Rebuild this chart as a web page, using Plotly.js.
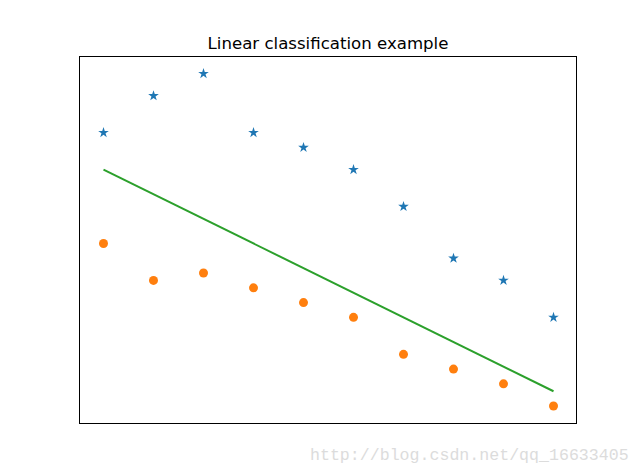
<!DOCTYPE html>
<html>
<head>
<meta charset="utf-8">
<script src="https://cdn.plot.ly/plotly-3.0.1.min.js"></script>
<style>html,body{margin:0;padding:0;background:#fff;}#chart{width:640px;height:476px;}</style>
</head>
<body>
<div id="chart"></div>
<script>
const xValues = [1, 2, 3, 4, 5, 6, 7, 8, 9, 10];
const classA = [37, 42, 45, 37, 35, 32, 27, 20, 17, 12];
const classB = [22, 17, 18, 16, 14, 12, 7, 5, 3, 0];
const lineX = [1, 10];
const lineY = [32, 2];
const titleText = "Linear classification example";
const watermarkText = "http://blog.csdn.net/qq_16633405";

const traces = [
  {x: xValues, y: classA, mode: 'markers', type: 'scatter',
   marker: {symbol: 'star', size: 8, color: '#1f77b4'}},
  {x: xValues, y: classB, mode: 'markers', type: 'scatter',
   marker: {symbol: 'circle', size: 9, color: '#ff7f0e'}},
  {x: lineX, y: lineY, mode: 'lines', type: 'scatter',
   line: {color: '#2ca02c', width: 2}}
];

const layout = {
  width: 640, height: 476,
  margin: {l: 80, r: 64, t: 57, b: 53},
  paper_bgcolor: '#fff', plot_bgcolor: '#fff',
  showlegend: false,
  font: {family: 'DejaVu Sans', color: '#000'},
  title: {text: titleText, font: {family: 'DejaVu Sans', size: 16.6, color: '#000'},
          x: 0.5, xref: 'paper', xanchor: 'center', y: 1 - 43/476, yanchor: 'middle', yref: 'container'},
  xaxis: {range: [0.53, 10.45], showticklabels: false, ticks: '', showgrid: false, zeroline: false,
          showline: true, mirror: true, linecolor: '#000', linewidth: 1},
  yaxis: {range: [-2.3, 47.25], showticklabels: false, ticks: '', showgrid: false, zeroline: false,
          showline: true, mirror: true, linecolor: '#000', linewidth: 1},
  annotations: [{text: watermarkText, xref: 'paper', yref: 'paper', x: 1.11, y: -0.09,
                 xanchor: 'right', yanchor: 'middle', showarrow: false,
                 font: {family: 'Liberation Mono', size: 16.6, color: '#dcdcdc'}}]
};

Plotly.newPlot('chart', traces, layout, {displayModeBar: false, staticPlot: true});
</script>
</body>
</html>
